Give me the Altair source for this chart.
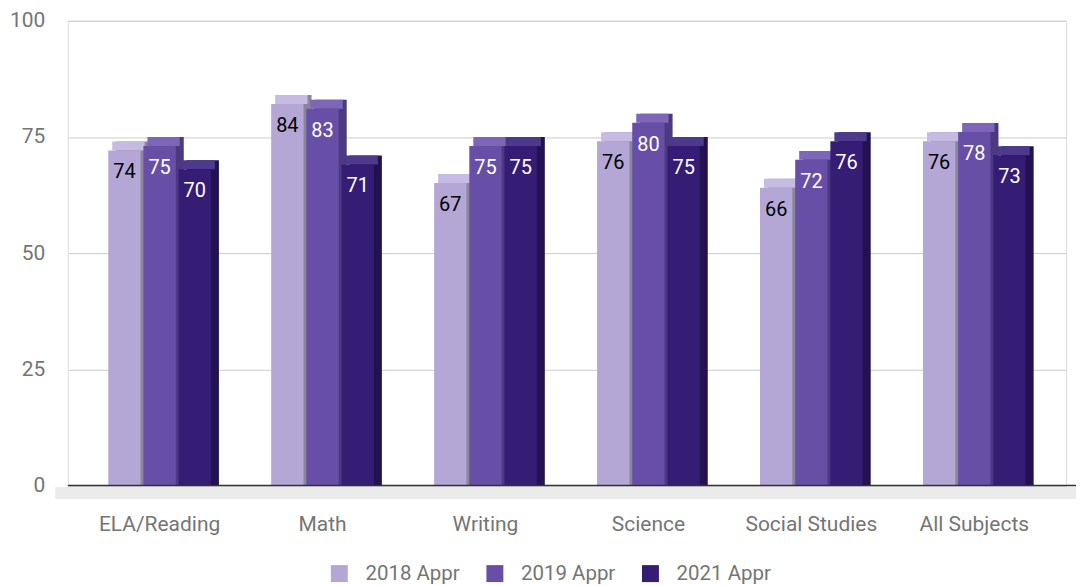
import altair as alt
import pandas as pd

subjects = ["ELA/Reading", "Math", "Writing", "Science", "Social Studies", "All Subjects"]
years = ["2018 Appr", "2019 Appr", "2021 Appr"]
v2018 = [74, 84, 67, 76, 66, 76]
v2019 = [75, 83, 75, 80, 72, 78]
v2021 = [70, 71, 75, 75, 76, 73]

front_colors = ["#b4a7d6", "#674ea7", "#351c75"]
top_colors = ["#c6bce3", "#7d66b8", "#4e3a8c"]
side_colors = ["#8b8599", "#4b3a80", "#23124f"]
text_colors = ["#000000", "#ffffff", "#ffffff"]

rows = []
for s, a, b, c in zip(subjects, v2018, v2019, v2021):
    rows.append({"subject": s, "year": years[0], "value": a})
    rows.append({"subject": s, "year": years[1], "value": b})
    rows.append({"subject": s, "year": years[2], "value": c})
df = pd.DataFrame(rows)

W = 1001
H = 466
FONT = "Roboto"
GREY = "#757575"

xenc = alt.X("subject:N", sort=subjects, title=None,
             scale=alt.Scale(paddingInner=0.37, paddingOuter=0.248),
             axis=alt.Axis(labelAngle=0, labelFontSize=21, labelColor=GREY, grid=False,
                           gridOpacity=0, domainOpacity=0,
                           labelFont=FONT, ticks=False, domain=False, labelPadding=28))
yaxis = alt.Axis(values=[0, 25, 50, 75, 100], labelFontSize=21, labelColor=GREY,
                 labelFont=FONT, ticks=False, domain=False, domainOpacity=0, labelPadding=23,
                 gridColor="#cccccc", gridWidth=1)
yenc = alt.Y("value:Q", title=None, scale=alt.Scale(domain=[0, 100]), axis=yaxis)

def xoff(rng):
    return alt.XOffset("year:N", sort=years,
                       scale=alt.Scale(type="band", domain=years, range=rng, paddingInner=0.08, paddingOuter=0))

base = alt.Chart(df)

floor = base.mark_rect(color="#ebebeb").encode(
    x=alt.value(-12), x2=alt.value(W + 15), y=alt.value(H + 2), y2=alt.value(H + 13)
)

side = base.mark_bar().encode(
    x=xenc, y=yenc, y2=alt.datum(0),
    xOffset=xoff([8, 111]),
    fill=alt.Fill("year:N", sort=years, scale=alt.Scale(domain=years, range=side_colors), legend=None),
)

top = base.transform_calculate(lower="datum.value - 1.93").mark_bar().encode(
    x=xenc, y=yenc, y2="lower:Q",
    xOffset=xoff([4, 107]),
    fill=alt.Fill("year:N", sort=years, scale=alt.Scale(domain=years, range=top_colors), legend=None),
)

front = base.mark_bar(yOffset=9).encode(
    x=xenc, y=yenc, y2=alt.datum(0),
    xOffset=xoff([0, 103]),
    fill=alt.Fill("year:N", sort=years, title=None,
                  scale=alt.Scale(domain=years, range=front_colors),
                  legend=alt.Legend(orient="none", legendX=262, legendY=544, direction="horizontal",
                                    symbolType="square", symbolSize=289, symbolStrokeWidth=0,
                                    labelFontSize=20.5, labelColor=GREY, labelFont=FONT,
                                    labelOffset=16, columnPadding=24)),
)

labels = base.mark_text(dy=31, fontSize=20, font=FONT, baseline="middle", align="center").encode(
    x=xenc, y=yenc,
    xOffset=alt.XOffset("year:N", sort=years,
                        scale=alt.Scale(type="point", domain=years, range=[16.2, 86.8], padding=0)),
    text="value:Q",
    color=alt.Color("year:N", sort=years, scale=alt.Scale(domain=years, range=text_colors), legend=None),
)

baseline = alt.Chart(pd.DataFrame({"value": [0]})).mark_rule(color="#333333", strokeWidth=1.5).encode(
    y=yenc,
    x=alt.value(0), x2=alt.value(W + 15),
)

chart = alt.layer(floor, side, top, front, labels, baseline).resolve_scale(
    fill="independent", color="independent", xOffset="independent"
).properties(
    width=W, height=H,
    autosize=alt.AutoSizeParams(type="none"),
    padding={"left": 60, "top": 12, "right": 10, "bottom": 98},
).configure_view(stroke="transparent", strokeWidth=0, strokeOpacity=0).configure_axisX(
    grid=False, domain=False, ticks=False, gridOpacity=0
).configure_axisY(
    domain=False, ticks=False, domainOpacity=0
).configure_axisBand(grid=False, gridOpacity=0, domain=False).configure(background="white")

chart.save("out.html", embed_options={"renderer": "svg", "actions": False})
